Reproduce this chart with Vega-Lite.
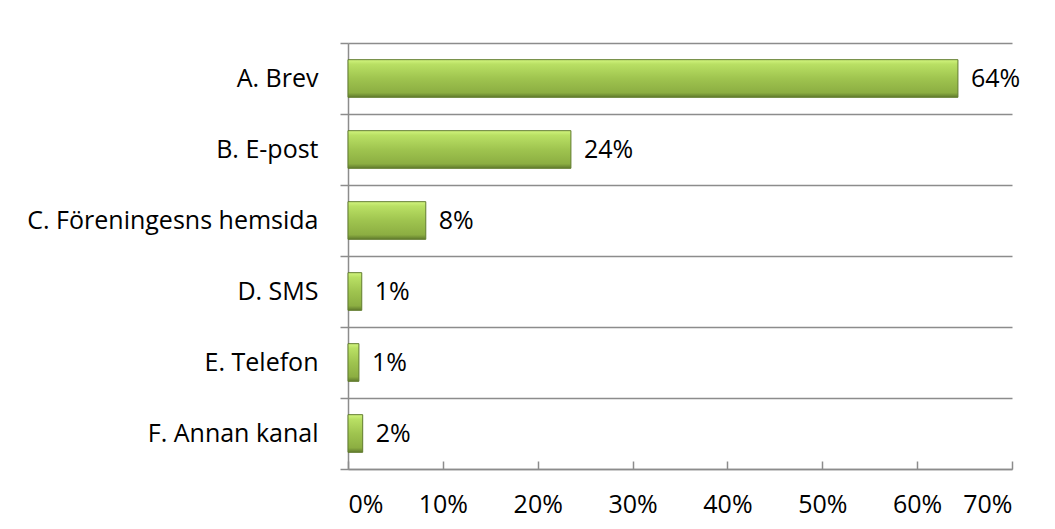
{
  "$schema": "https://vega.github.io/schema/vega-lite/v6.json",
  "autosize": "none",
  "width": 664,
  "height": 426,
  "padding": {"left": 348, "top": 43, "right": 43, "bottom": 60},
  "background": "white",
  "data": {"values": [
    {"kanal": "A. Brev", "andel": 0.643},
    {"kanal": "B. E-post", "andel": 0.235},
    {"kanal": "C. Föreningesns hemsida", "andel": 0.082},
    {"kanal": "D. SMS", "andel": 0.0145},
    {"kanal": "E. Telefon", "andel": 0.0115},
    {"kanal": "F. Annan kanal", "andel": 0.0155}
  ]},
  "encoding": {
    "y": {"field": "kanal", "type": "nominal", "sort": null,
      "scale": {"paddingInner": 0, "paddingOuter": 0},
      "axis": {"title": null, "grid": true, "tickBand": "extent", "gridColor": "#8c8c8c", "gridWidth": 1.5,
        "tickColor": "#8c8c8c", "tickWidth": 1.5, "tickSize": 8, "domainColor": "#8c8c8c", "domainWidth": 1.5,
        "labelFont": "Open Sans", "labelFontSize": 25, "labelColor": "#000000", "labelPadding": 22, "labelLimit": 400}},
    "x": {"field": "andel", "type": "quantitative",
      "scale": {"domain": [0, 0.7], "nice": false},
      "axis": {"title": null, "format": ".0%", "values": [0, 0.1, 0.2, 0.3, 0.4, 0.5, 0.6, 0.7], "grid": false,
        "tickColor": "#8c8c8c", "tickWidth": 1.5, "tickSize": -8, "domainColor": "#8c8c8c", "domainWidth": 1.5,
        "labelFont": "Open Sans", "labelFontSize": 25, "labelColor": "#000000", "labelPadding": 31}}
  },
  "layer": [
    {"mark": {"type": "bar", "height": {"band": 0.53}, "strokeWidth": 1, "stroke": "#617c2e",
      "color": {"gradient": "linear", "x1": 0, "y1": 0, "x2": 0, "y2": 1,
        "stops": [
          {"offset": 0, "color": "#d2f57e"},
          {"offset": 0.12, "color": "#b9e064"},
          {"offset": 0.5, "color": "#9fc44f"},
          {"offset": 0.88, "color": "#8cae42"},
          {"offset": 1, "color": "#5f7a2c"}
        ]}}},
    {"mark": {"type": "text", "align": "left", "dx": 13, "font": "Open Sans", "fontSize": 25, "color": "#000000"},
      "encoding": {"text": {"field": "andel", "type": "quantitative", "format": ".0%"}}}
  ],
  "config": {"view": {"stroke": null}}
}
